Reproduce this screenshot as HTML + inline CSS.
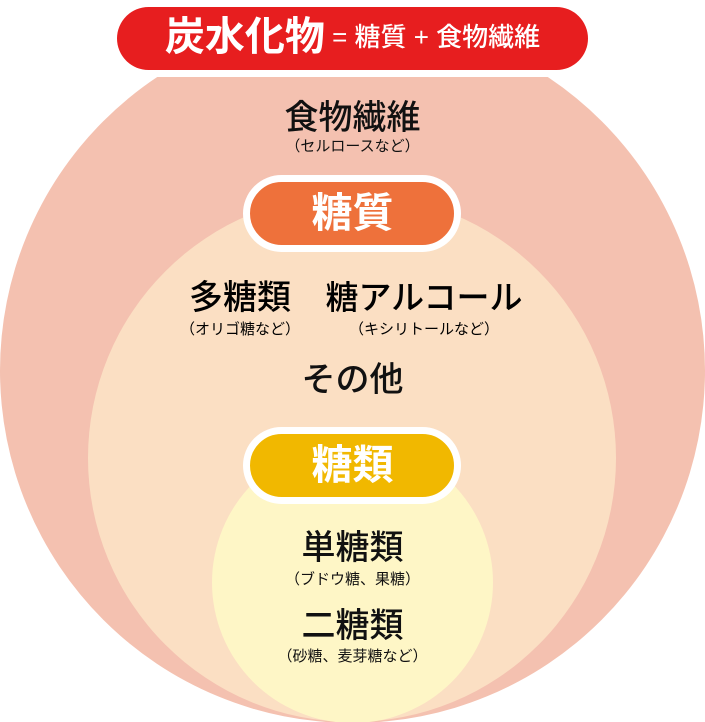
<!DOCTYPE html>
<html><head><meta charset="utf-8"><style>
body{margin:0;width:705px;height:722px;overflow:hidden;background:#fff;position:relative;font-family:"Liberation Sans","Noto Sans CJK JP",sans-serif}
.a{position:absolute}
.c{border-radius:50%}
.t{position:absolute;left:0;width:705px;text-align:center;color:#111;white-space:nowrap}
.m{font-weight:500}
</style></head><body>
<div class="a" style="left:0;top:77px;width:705px;height:645px;overflow:hidden">
 <div class="a c" style="left:0;top:-59px;width:705px;height:705px;background:#f4c1b0"></div>
 <div class="a c" style="left:88px;top:117px;width:528px;height:528px;background:#fbdfc3"></div>
 <div class="a c" style="left:212px;top:365px;width:281px;height:281px;background:#fef6c6"></div>
</div>
<div class="a" style="left:117px;top:7px;width:471px;height:63px;border-radius:32px;background:#e71e1f"></div>
<div class="t" style="top:12px;color:#fff;font-size:26px;font-weight:500;line-height:50px"><span style="font-size:40px;font-weight:bold;vertical-align:-4px">炭水化物</span> = 糖質 + 食物繊維</div>
<div class="t m" style="top:97px;font-size:34px;line-height:42px">食物繊維</div>
<div class="t" style="top:137px;font-size:15px;line-height:20px">（セルロースなど）</div>
<div class="a" style="left:243px;top:175px;width:204px;height:63px;border:7px solid #fff;border-radius:40px;background:#ee713b"></div>
<div class="t" style="top:186px;color:#fff;font-size:41px;font-weight:bold;line-height:54px">糖質</div>
<div class="a m" style="left:160px;top:277px;width:160px;text-align:center;font-size:34px;line-height:42px">多糖類</div>
<div class="a" style="left:160px;top:320px;width:160px;text-align:center;font-size:15px;line-height:20px">（オリゴ糖など）</div>
<div class="a m" style="left:304px;top:277px;width:240px;text-align:center;font-size:33px;line-height:42px">糖アルコール</div>
<div class="a" style="left:304px;top:320px;width:240px;text-align:center;font-size:15px;line-height:20px">（キシリトールなど）</div>
<div class="t m" style="top:359px;font-size:34px;line-height:42px">その他</div>
<div class="a" style="left:243px;top:427px;width:204px;height:63px;border:7px solid #fff;border-radius:40px;background:#f1b800"></div>
<div class="t" style="top:438px;color:#fff;font-size:41px;font-weight:bold;line-height:54px">糖類</div>
<div class="t m" style="top:527px;font-size:34px;line-height:42px">単糖類</div>
<div class="t" style="top:570px;font-size:15px;line-height:20px">（ブドウ糖、果糖）</div>
<div class="t m" style="top:605px;font-size:34px;line-height:42px">二糖類</div>
<div class="t" style="top:647px;font-size:15px;line-height:20px">（砂糖、麦芽糖など）</div>
</body></html>
